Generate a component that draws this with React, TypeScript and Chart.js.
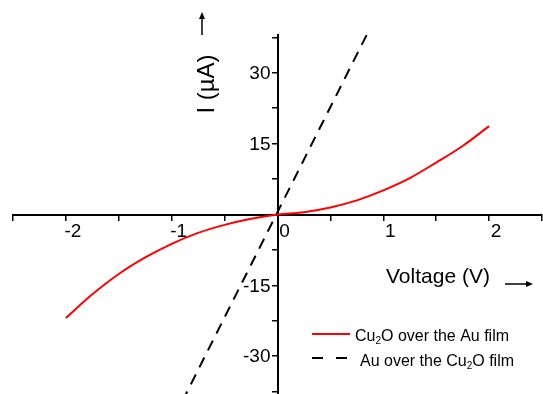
import React, { useEffect, useRef } from "react";
import { Chart, registerables } from "chart.js";

Chart.register(...registerables);

// Data
const voltageCu2O = [-2, -1.75, -1.5, -1.25, -1, -0.75, -0.5, -0.25, 0, 0.25, 0.5, 0.75, 1, 1.25, 1.5, 1.75, 2];
const currentCu2O = [-21.9, -16.9, -12.6, -9.1, -6.2, -3.9, -2.2, -0.9, 0, 0.5, 1.5, 3.0, 5.1, 7.7, 11.0, 14.5, 18.7];
const voltageAu = [-0.9, 0.86];
const currentAu = [-39.55, 38.77];

const xTickValues = [-2.5, -2, -1.5, -1, -0.5, 0, 0.5, 1, 1.5, 2, 2.5];
const xTickLabels = ["", "-2", "", "-1", "", "0", "", "1", "", "2", ""];
const yTickValues = [-37.5, -30, -22.5, -15, -7.5, 0, 7.5, 15, 22.5, 30, 37.5];
const yTickLabels = ["", "-30", "", "-15", "", "", "", "15", "", "30", ""];

const seriesNames = ["Cu2O over the Au film", "Au over the Cu2O film"];
const xTitle = "Voltage (V)";
const yTitle = "I (\u00b5A)";

const FONT = '"Liberation Sans", Arial, sans-serif';

function drawArrow(ctx: CanvasRenderingContext2D, x1: number, y1: number, x2: number, y2: number) {
  const ang = Math.atan2(y2 - y1, x2 - x1);
  const hl = 7;
  const hw = 3;
  ctx.beginPath();
  ctx.moveTo(x1, y1);
  ctx.lineTo(x2 - Math.cos(ang) * hl * 0.8, y2 - Math.sin(ang) * hl * 0.8);
  ctx.lineWidth = 1.5;
  ctx.strokeStyle = "#000";
  ctx.stroke();
  ctx.beginPath();
  ctx.moveTo(x2, y2);
  ctx.lineTo(x2 - Math.cos(ang) * hl - Math.sin(ang) * hw, y2 - Math.sin(ang) * hl + Math.cos(ang) * hw);
  ctx.lineTo(x2 - Math.cos(ang) * hl + Math.sin(ang) * hw, y2 - Math.sin(ang) * hl - Math.cos(ang) * hw);
  ctx.closePath();
  ctx.fillStyle = "#000";
  ctx.fill();
}

function drawSubText(ctx: CanvasRenderingContext2D, text: string, x: number, y: number, size: number) {
  // draws "Cu2O" with the 2 as a subscript
  const idx = text.indexOf("Cu2O");
  const parts = idx >= 0 ? [text.slice(0, idx + 2), "2", text.slice(idx + 3)] : [text, "", ""];
  ctx.textBaseline = "alphabetic";
  ctx.textAlign = "left";
  ctx.fillStyle = "#000";
  ctx.font = `${size}px ${FONT}`;
  ctx.fillText(parts[0], x, y);
  let cx = x + ctx.measureText(parts[0]).width;
  if (parts[1]) {
    ctx.font = `${Math.round(size * 0.62)}px ${FONT}`;
    ctx.fillText(parts[1], cx, y + 3);
    cx += ctx.measureText(parts[1]).width;
    ctx.font = `${size}px ${FONT}`;
    ctx.fillText(parts[2], cx, y);
  }
}

const annotations = {
  id: "annotations",
  afterDraw(chart: any) {
    const ctx = chart.ctx as CanvasRenderingContext2D;
    const xs = chart.scales.x;
    const ys = chart.scales.y;
    const x0 = xs.getPixelForValue(0);
    ctx.save();
    // y tick labels (left of the centred y axis)
    ctx.fillStyle = "#000";
    ctx.font = `19px ${FONT}`;
    ctx.textAlign = "right";
    ctx.textBaseline = "middle";
    yTickValues.forEach((v, i) => {
      if (yTickLabels[i]) ctx.fillText(yTickLabels[i], x0 - 7, ys.getPixelForValue(v) + 1);
    });
    ctx.restore();
    ctx.save();
    // y title
    ctx.fillStyle = "#000";
    ctx.font = `24px ${FONT}`;
    ctx.translate(214, 84);
    ctx.rotate(-Math.PI / 2);
    ctx.textAlign = "center";
    ctx.textBaseline = "alphabetic";
    ctx.fillText(yTitle, 0, 0);
    ctx.restore();
    ctx.save();
    drawArrow(ctx, 202, 35, 202, 12);
    // x title
    ctx.fillStyle = "#000";
    ctx.font = `21px ${FONT}`;
    ctx.textAlign = "left";
    ctx.textBaseline = "alphabetic";
    ctx.fillText(xTitle, 386, 283);
    drawArrow(ctx, 505, 284, 533, 284);
    // legend
    ctx.beginPath();
    ctx.moveTo(312, 334);
    ctx.lineTo(350, 334);
    ctx.strokeStyle = "#ff0000";
    ctx.lineWidth = 2;
    ctx.stroke();
    drawSubText(ctx, seriesNames[0], 355, 340.5, 16);
    ctx.beginPath();
    ctx.setLineDash([11, 13]);
    ctx.moveTo(312, 358);
    ctx.lineTo(348, 358);
    ctx.strokeStyle = "#000";
    ctx.lineWidth = 2;
    ctx.stroke();
    ctx.setLineDash([]);
    drawSubText(ctx, seriesNames[1], 360, 366, 16);
    ctx.restore();
  },
};

export default function App() {
  const ref = useRef<HTMLCanvasElement>(null);
  useEffect(() => {
    if (!ref.current) return;
    const chart = new Chart(ref.current, {
      type: "line",
      data: {
        datasets: [
          {
            label: seriesNames[0],
            data: voltageCu2O.map((v, i) => ({ x: v, y: currentCu2O[i] })),
            borderColor: "#ff0000",
            borderWidth: 2,
            pointRadius: 0,
            cubicInterpolationMode: "monotone",
          },
          {
            label: seriesNames[1],
            data: voltageAu.map((v, i) => ({ x: v, y: currentAu[i] })),
            borderColor: "#000",
            borderWidth: 2,
            borderDash: [11, 8],
            pointRadius: 0,
          },
        ],
      },
      options: {
        animation: false,
        responsive: false,
        layout: { padding: { top: 35, left: 13, right: 0, bottom: 0 } },
        plugins: { legend: { display: false }, tooltip: { enabled: false } },
        scales: {
          x: {
            type: "linear",
            position: { y: 0 },
            min: -2.5,
            max: 2.5,
            afterBuildTicks: (s: any) => {
              s.ticks = xTickValues.map((v) => ({ value: v }));
            },
            ticks: {
              autoSkip: false,
              maxRotation: 0,
              color: "#000",
              font: { family: FONT, size: 19 },
              padding: 1,
              labelOffset: 7,
              callback: (v: any) => {
                const i = xTickValues.indexOf(Number(v));
                return i >= 0 ? xTickLabels[i] : "";
              },
            },
            grid: { drawOnChartArea: false, drawTicks: true, tickLength: 5, color: "#000", lineWidth: 1.5 },
            border: { display: true, color: "#000", width: 2 },
          },
          y: {
            type: "linear",
            position: { x: 0 },
            min: -38,
            max: 38,
            afterBuildTicks: (s: any) => {
              s.ticks = yTickValues.map((v) => ({ value: v }));
            },
            ticks: { display: false },
            grid: { drawOnChartArea: false, drawTicks: true, tickLength: 5, color: "#000", lineWidth: 1.5 },
            border: { display: true, color: "#000", width: 2 },
          },
        },
      },
      plugins: [annotations],
    } as any);
    return () => chart.destroy();
  }, []);
  return (
    <div style={{ position: "fixed", left: 0, top: 0, width: 543, height: 394, background: "#fff" }}>
      <canvas ref={ref} width={543} height={394} style={{ display: "block", width: 543, height: 394 }} />
    </div>
  );
}
